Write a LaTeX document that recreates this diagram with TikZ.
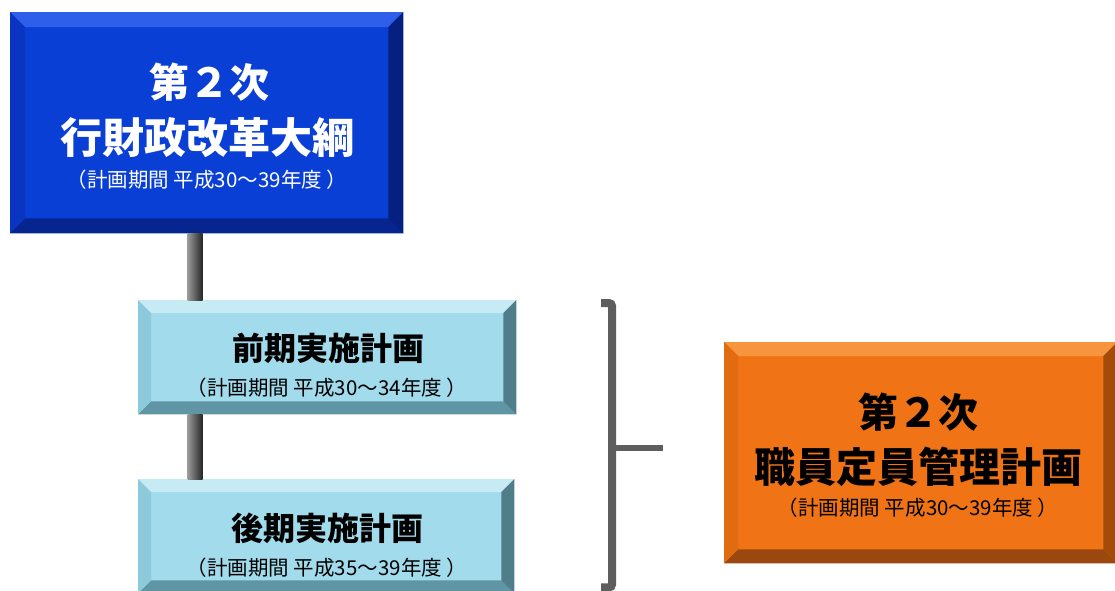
\documentclass[tikz,border=0pt]{standalone}
\usepackage{fontspec}
\newfontfamily\jp{Noto Sans CJK JP}
\definecolor{bluef}{HTML}{0A3FD6}
\definecolor{bluet}{HTML}{2E5FEA}
\definecolor{bluel}{HTML}{0935C0}
\definecolor{bluer}{HTML}{05207E}
\definecolor{blueb}{HTML}{06258F}
\definecolor{lbf}{HTML}{A2DBEB}
\definecolor{lbt}{HTML}{C6EBF5}
\definecolor{lbl}{HTML}{8CCADB}
\definecolor{lbr}{HTML}{4F7D89}
\definecolor{lbb}{HTML}{5F95A4}
\definecolor{orf}{HTML}{F07416}
\definecolor{ort}{HTML}{F7953E}
\definecolor{orl}{HTML}{E06B10}
\definecolor{orr}{HTML}{A34B08}
\definecolor{orb}{HTML}{9A4810}
\definecolor{conn}{HTML}{5E5E5E}
\newcommand\mybevel[6]{%
  \fill[#3] (#1.north west) -- (#1.north east) -- ([xshift=-#2,yshift=-#2]#1.north east) -- ([xshift=#2,yshift=-#2]#1.north west) -- cycle;
  \fill[#6] (#1.south west) -- (#1.south east) -- ([xshift=-#2,yshift=#2]#1.south east) -- ([xshift=#2,yshift=#2]#1.south west) -- cycle;
  \fill[#4] (#1.north west) -- (#1.south west) -- ([xshift=#2,yshift=#2]#1.south west) -- ([xshift=#2,yshift=-#2]#1.north west) -- cycle;
  \fill[#5] (#1.north east) -- (#1.south east) -- ([xshift=-#2,yshift=#2]#1.south east) -- ([xshift=-#2,yshift=-#2]#1.north east) -- cycle;}
\begin{document}
\begin{tikzpicture}[x=1pt,y=-1pt,
  box/.style={rectangle, inner sep=0pt, anchor=north west},
  bigttl/.style={font=\jp\bfseries\fontsize{40}{44}\selectfont, inner sep=0pt},
  widettl/.style={font=\jp\bfseries\fontsize{42}{46}\selectfont, inner sep=0pt},
  midttl/.style={font=\jp\bfseries\fontsize{32}{36}\selectfont, inner sep=0pt},
  subttl/.style={font=\jp\fontsize{20.5}{24}\selectfont, inner sep=0pt},
  bracket/.style={draw=conn, line width=8pt, rounded corners=3pt},
  stub/.style={draw=conn, line width=6.5pt}]
\useasboundingbox (0,0) rectangle (1115,590);
\clip (0,0) rectangle (1115,590);
% boxes
\node[box, fill=bluef, minimum width=393pt, minimum height=221pt] (main) at (10,12) {};
\mybevel{main}{15pt}{bluet}{bluel}{bluer}{blueb}
\node[box, fill=lbf, minimum width=378pt, minimum height=114pt] (early) at (138,300) {};
\mybevel{early}{13pt}{lbt}{lbl}{lbr}{lbb}
\node[box, fill=lbf, minimum width=376pt, minimum height=114pt] (late) at (138,479) {};
\mybevel{late}{13pt}{lbt}{lbl}{lbr}{lbb}
\node[box, fill=orf, minimum width=393pt, minimum height=221pt] (staff) at (724,342) {};
\mybevel{staff}{14pt}{ort}{orl}{orr}{orb}
% spine connectors
\coordinate (spine) at (195,0);
\coordinate (s1a) at (spine |- main.south);
\coordinate (s1b) at (spine |- early.north);
\coordinate (s2a) at (spine |- early.south);
\coordinate (s2b) at (spine |- late.north);
\shade[left color=black!40, right color=black!85] ([xshift=-7.5pt]s1a) rectangle ([xshift=7.5pt]s1b);
\shade[left color=black!40, right color=black!85] ([xshift=-7.5pt]s2a) rectangle ([xshift=7.5pt]s2b);
% bracket
\coordinate (bx) at (612,0);
\coordinate (btop) at ([yshift=-3pt]bx |- early.north);
\coordinate (bbot) at ([yshift=6pt]bx |- late.south);
\coordinate (bend) at (663,448);
\draw[bracket] ([xshift=-11pt]btop) -- (btop) -- (bbot) -- ([xshift=-11pt]bbot);
\draw[stub] (bx |- bend) -- (bend);
% texts
\node[bigttl, text=white] (mainA) at (209,82) {第２次};
\node[widettl, text=white] (mainB) at (207,138) {行財政改革大綱};
\node[subttl, text=white] (mainC) at (207,180) {（計画期間 平成30～39年度 ）};
\node[midttl] (earlyA) at (328,348) {前期実施計画};
\node[subttl] (earlyB) at (327,388) {（計画期間 平成30～34年度 ）};
\node[midttl] (lateA) at (327,528) {後期実施計画};
\node[subttl] (lateB) at (327,568) {（計画期間 平成35～39年度 ）};
\node[bigttl] (staffA) at (918,412) {第２次};
\node[bigttl, font=\jp\bfseries\fontsize{41}{45}\selectfont] (staffB) at (918,467) {職員定員管理計画};
\node[subttl] (staffC) at (918,508) {（計画期間 平成30～39年度 ）};
\end{tikzpicture}
\end{document}
